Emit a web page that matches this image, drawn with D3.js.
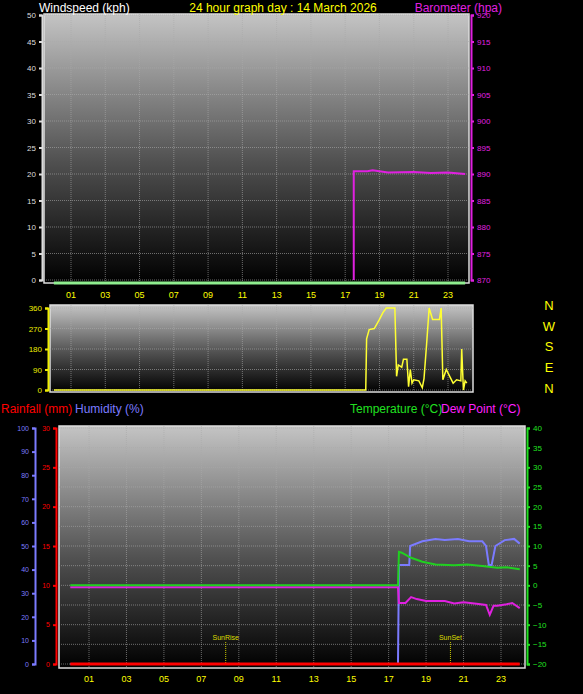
<!DOCTYPE html><html><head><script src="https://d3js.org/d3.v7.min.js"></script>
<style>body{margin:0;background:#000}svg{display:block;font-family:"Liberation Sans",Arial,sans-serif}</style></head><body><svg id="c" width="583" height="694"></svg>
<script>
const hourTicks=[1,3,5,7,9,11,13,15,17,19,21,23];
const baroHours=[17.5,17.5,18.3,18.6,19.5,21,22,23,24];
const baroVals=[870,890.5,890.5,890.7,890.3,890.4,890.2,890.3,890.0];
const windHours=[0,24];const windVals=[0,0];
const dirHours=[0,18.2,18.25,18.4,18.7,19.0,19.2,19.4,19.9,20.0,20.1,20.3,20.4,20.6,20.7,20.8,20.9,21.0,21.3,21.5,21.6,21.75,21.9,22.1,22.5,22.6,22.7,22.9,23.1,23.3,23.5,23.75,23.8,23.9,24.0,24.1];
const dirVals=[0,0,225,265,270,310,340,360,360,60,110,100,135,135,15,90,30,45,40,10,50,200,360,310,310,360,45,90,60,30,45,40,180,0,40,30];
const tempHours=[0,17.5,17.55,17.7,18.2,18.8,19.5,20.5,21.2,22,22.8,23.3,24];
const tempVals=[0,0,8.5,8.3,7,6,5.3,5.1,5.3,4.9,4.5,4.6,4.1];
const dewHours=[0,17.5,17.55,17.9,18.2,18.5,19,20,20.5,21,21.7,22.2,22.4,22.6,22.8,23.3,23.6,24];
const dewVals=[-0.5,-0.5,-4.5,-4.5,-3,-3.5,-4,-4,-4.6,-4.3,-4.7,-5,-7.5,-5.2,-5.2,-4.8,-4.5,-5.8];
const humHours=[0,17.5,17.55,18.1,18.15,18.8,19.5,20,20.7,21.3,22,22.2,22.35,22.5,22.7,23.2,23.7,24];
const humVals=[0,0,42,42,50,52,53,52.5,53,52,52,50,42,42,50,52.5,53,51];
const rainHours=[0,24];const rainVals=[0,0];
const tempTicks=[-20,-15,-10,-5,0,5,10,15,20,25,30,35,40];
const humTicks=[0,10,20,30,40,50,60,70,80,90,100];
const rainTicks=[0,5,10,15,20,25,30];
const windTicks=[0,5,10,15,20,25,30,35,40,45,50];
const baroTicks=[870,875,880,885,890,895,900,905,910,915,920];
const dirTicks=[0,90,180,270,360];
const compass=["N","W","S","E","N"];
const sunEvents=[{h:8.3,t:"SunRise"},{h:20.3,t:"SunSet"}];

const svg=d3.select("#c");
const defs=svg.append("defs");
const g=defs.append("linearGradient").attr("id","bg").attr("x1",0).attr("x2",0).attr("y1",0).attr("y2",1);
g.append("stop").attr("offset","0%").attr("stop-color","#c4c4c4");
g.append("stop").attr("offset","55%").attr("stop-color","#505050");
g.append("stop").attr("offset","100%").attr("stop-color","#000");

function panel(x0,x1,y0,y1,xs,ys,yt){
  svg.append("rect").attr("x",x0).attr("y",y0).attr("width",x1-x0).attr("height",y1-y0).attr("fill","url(#bg)").attr("stroke","#ddd").attr("stroke-width",1.5);
  const gg=svg.append("g").attr("stroke","#aaa").attr("stroke-opacity",0.6).attr("stroke-dasharray","1,1");
  hourTicks.forEach(h=>gg.append("line").attr("x1",xs(h)).attr("x2",xs(h)).attr("y1",y0).attr("y2",y1));
  yt.forEach(v=>gg.append("line").attr("x1",x0).attr("x2",x1).attr("y1",ys(v)).attr("y2",ys(v)));
}
function line(xs,ys,H,V,col,w){
  svg.append("path").datum(H.map((h,i)=>[h,V[i]])).attr("fill","none").attr("stroke",col).attr("stroke-width",w||2)
   .attr("d",d3.line().x(d=>xs(d[0])).y(d=>ys(d[1])));
}
function axis(ax,x,col,fs){
  const a=svg.append("g").attr("transform",`translate(${x},0)`).call(ax);
  a.selectAll("path").attr("stroke",col).attr("stroke-width",2);
  a.selectAll("line").attr("stroke",col).attr("stroke-width",2);
  a.selectAll("text").attr("fill",col).attr("font-size",fs||8);
  return a;
}
function hourAxis(xs,y){
  svg.append("g").selectAll("text").data(hourTicks).join("text").attr("x",d=>xs(d)).attr("y",y).attr("text-anchor","middle")
   .attr("fill","#ff0").attr("font-size",9).text(d=>d3.format("02")(d));
}
function txt(x,y,t,c,fs,a){svg.append("text").attr("x",x).attr("y",y).attr("fill",c).attr("font-size",fs||12).attr("text-anchor",a||"start").text(t);}

// top
const x1=d3.scaleLinear().domain([1,23]).range([71,448]);
const yW=d3.scaleLinear().domain([0,50]).range([280,15]);
const yB=d3.scaleLinear().domain([870,920]).range([280,15]);
panel(44,469,14,283,x1,yW,windTicks);
axis(d3.axisLeft(yW).tickValues(windTicks).tickSize(3),42,"#ddd");
axis(d3.axisRight(yB).tickValues(baroTicks).tickSize(3),471,"#e020e0");
line(x1,d3.scaleLinear().domain([0,50]).range([283,18]),windHours,windVals,"#90ee90",3);
line(x1,yB,baroHours,baroVals,"#e020e0",2);
hourAxis(x1,298);
txt(39,12,"Windspeed (kph)","#fff",12);
txt(283,12,"24 hour graph day : 14 March 2026","#ff0",12,"middle");
txt(502,12,"Barometer (hpa)","#e020e0",12,"end");

// wind dir
const x2=d3.scaleLinear().domain([1,23]).range([71,448]);
const yD=d3.scaleLinear().domain([0,360]).range([390,308]);
panel(50,473,305,392,x2,yD,dirTicks);
axis(d3.axisLeft(yD).tickValues(dirTicks).tickSize(3),48,"#ee0");
line(x2,yD,dirHours,dirVals,"#ffff33",1.5);
compass.forEach((c,i)=>txt(549,310+i*20.7,c,"#ff0",13,"middle"));

// bottom
txt(1,413,"Rainfall (mm)","#f00",12);
txt(75,413,"Humidity (%)","#7b7bff",12);
txt(350,413,"Temperature (°C)","#20e020",12);
txt(441,413,"Dew Point (°C)","#ff20ff",12);
const x3=d3.scaleLinear().domain([1,23]).range([89,501]);
const yT=d3.scaleLinear().domain([-20,40]).range([664,428]);
const yH=d3.scaleLinear().domain([0,100]).range([664,428]);
const yR=d3.scaleLinear().domain([0,30]).range([664,428]);
panel(59,525,426,668,x3,yT,tempTicks);
axis(d3.axisLeft(yH).tickValues(humTicks).tickSize(3),35,"#7b7bff",7);
axis(d3.axisLeft(yR).tickValues(rainTicks).tickSize(3),56,"#f00",7);
axis(d3.axisRight(yT).tickValues(tempTicks).tickSize(3),527,"#20e020",8);
sunEvents.forEach(e=>{
  svg.append("line").attr("x1",x3(e.h)).attr("x2",x3(e.h)).attr("y1",642).attr("y2",666).attr("stroke","#cc0").attr("stroke-dasharray","1,1");
  txt(x3(e.h),640,e.t,"#dd0",7,"middle");
});
line(x3,yH,humHours,humVals,"#7b7bff",2);
line(x3,yT,dewHours,dewVals,"#e020e0",2);
line(x3,yT,tempHours,tempVals,"#20d020",2);
line(x3,yR,rainHours,rainVals,"#f00",3);
hourAxis(x3,682);
</script></body></html>
